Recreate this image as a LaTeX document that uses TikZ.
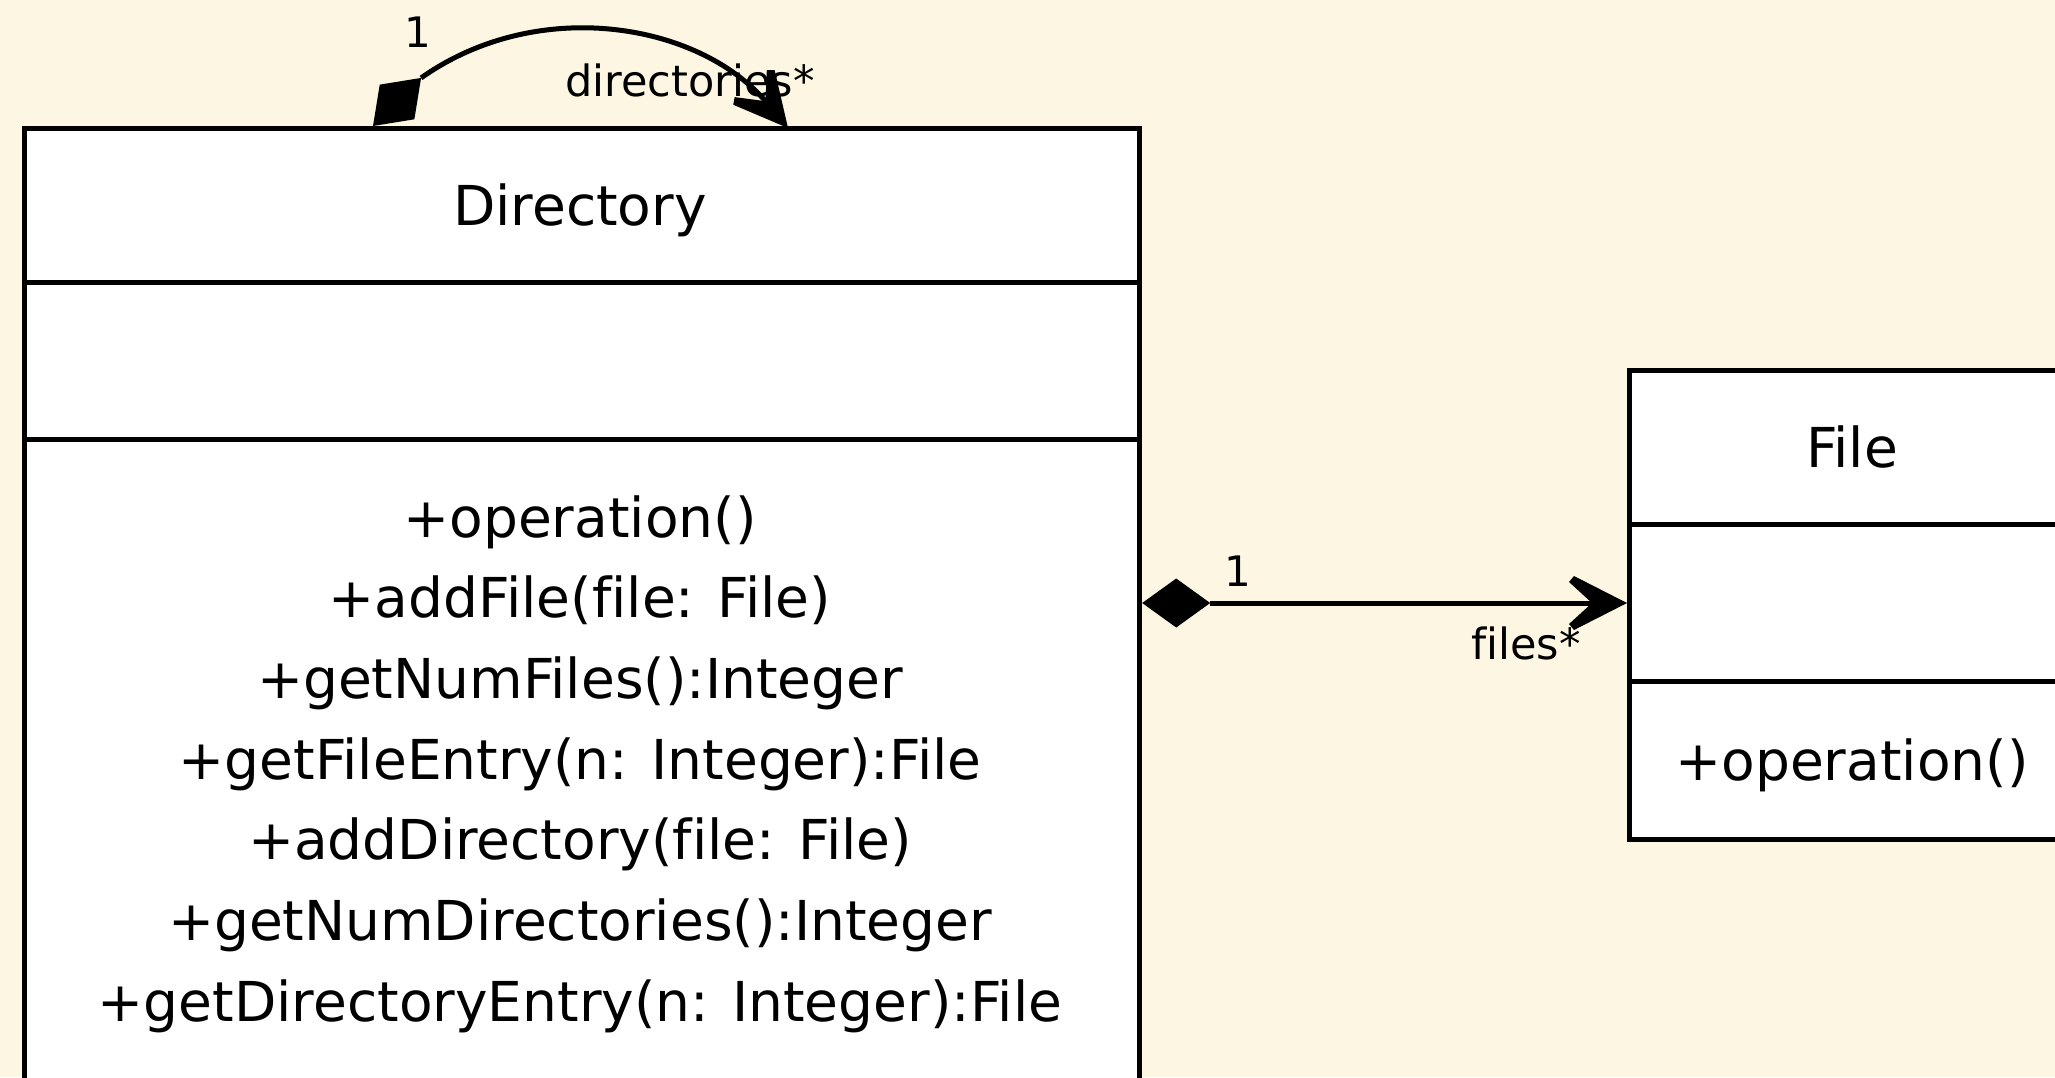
\documentclass[tikz,border=0pt]{standalone}
\usepackage{fontspec}
\setsansfont{DejaVu Sans}[Ligatures={NoCommon}]
\usetikzlibrary{calc}
\definecolor{paper}{HTML}{FDF6E3}
\tikzset{
  umlbox/.style={draw=black, line width=5.2pt, fill=white, inner sep=0pt},
  member/.style={font=\sffamily\fontsize{55}{64}\selectfont, anchor=base, inner sep=0pt},
  role/.style={font=\sffamily\fontsize{43}{50}\selectfont, inner sep=0pt},
  mult/.style={font=\sffamily\fontsize{42}{50}\selectfont, inner sep=0pt},
  link/.style={line width=5pt},
  % filled composition diamond, tip at the origin, pointing along +x
  pics/compdiamond/.style={code={
    \fill (0,0) -- (34,-24.5) -- (68,0) -- (34,24.5) -- cycle;
    \coordinate (-end) at (68,0);}},
  % navigable end: notched arrow head, tip at the origin, pointing along +x
  pics/openhead/.style={code={
    \fill (0,0) -- (-53,-27) -- (-58,-21) -- (-35,0) -- (-58,21) -- (-53,27) -- cycle;
    \coordinate (-back) at (-35,0);}},
}
\begin{document}
\begin{tikzpicture}[x=1pt, y=-1pt]
  \useasboundingbox (0,0) rectangle (2055,1077);
  \fill[paper] (0,0) rectangle (2055,1077);
  \clip (0,0) rectangle (2055,1077);

  % class Directory
  \node[umlbox, anchor=north west, minimum width=1115pt, minimum height=994pt] (dir) at (22,126) {};
  \draw[link] (dir.west |- 0,282) -- (dir.east |- 0,282);
  \draw[link] (dir.west |- 0,439) -- (dir.east |- 0,439);
  \node[member] (dirname) at (580,225) {Directory};
  \node[member] (op1) at (580,537) {+operation()};
  \node[member] (op2) at (580,617.7) {+addFile(file: File)};
  \node[member] (op3) at (580,698.4) {+getNumFiles():Integer};
  \node[member] (op4) at (580,779.1) {+getFileEntry(n: Integer):File};
  \node[member] (op5) at (580,859.8) {+addDirectory(file: File)};
  \node[member] (op6) at (580,940.5) {+getNumDirectories():Integer};
  \node[member] (op7) at (580,1021.2) {+getDirectoryEntry(n: Integer):File};

  % class File
  \node[umlbox, anchor=north west, minimum width=450pt, minimum height=469pt] (file) at (1627,368) {};
  \draw[link] (file.west |- 0,524) -- (file.east |- 0,524);
  \draw[link] (file.west |- 0,681) -- (file.east |- 0,681);
  \node[member] (filename) at (1852,467) {File};
  \node[member] (fop1) at (1852,780) {+operation()};

  % association end labels
  \node[mult] (m1) at (418,32) {1};
  \node[role, anchor=base] (r1) at (690,96) {directories*};
  \node[mult] (m2) at (1238,571) {1};
  \node[role, anchor=base east] (r2) at (1581,659) {files*};

  % self composition: Directory contains directories
  \coordinate (selfA) at ($(dir.north west)+(351,0)$);
  \coordinate (selfB) at ($(dir.north west)+(766,2)$);
  \pic[rotate=45] (d1) at (selfA) {compdiamond};
  \pic[rotate=-50] (h1) at (selfB) {openhead};
  \draw[link] (d1-end) .. controls +(116,-82) and +(-68.5,-79) .. (h1-back);

  % composition: Directory contains files
  \coordinate (compA) at (dir.east |- 0,603);
  \coordinate (compB) at (file.west |- 0,603);
  \pic (d2) at (compA) {compdiamond};
  \pic (h2) at (compB) {openhead};
  \draw[link] (d2-end) -- (h2-back);
\end{tikzpicture}
\end{document}
